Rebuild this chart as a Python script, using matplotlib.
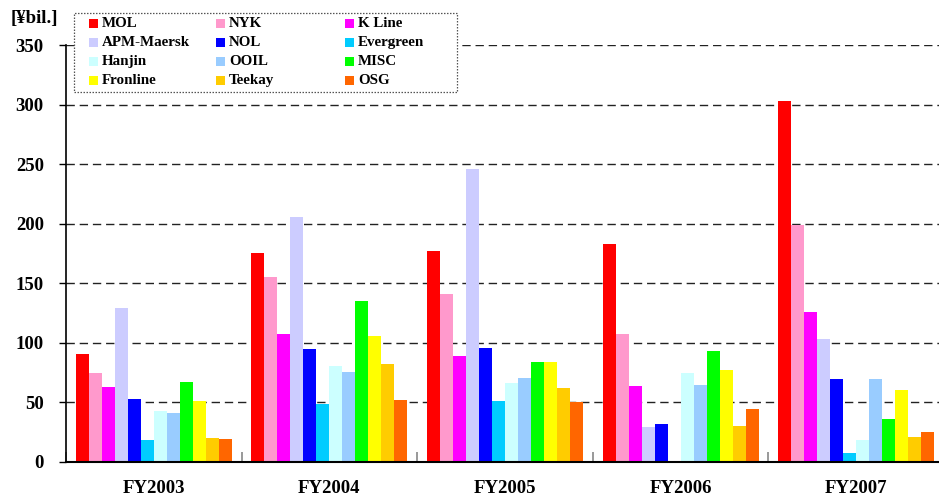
import matplotlib
matplotlib.use("Agg")
import matplotlib.pyplot as plt
from matplotlib.patches import Rectangle
import numpy as np

plt.rcParams['font.family'] = ['Liberation Serif', 'DejaVu Serif']
plt.rcParams['font.weight'] = 'bold'

years = ["FY2003", "FY2004", "FY2005", "FY2006", "FY2007"]
companies = ["MOL", "NYK", "K Line", "APM-Maersk", "NOL", "Evergreen",
             "Hanjin", "OOIL", "MISC", "Fronline", "Teekay", "OSG"]
colors = ["#FF0000", "#FF99CC", "#FF00FF", "#CCCCFF", "#0000FF", "#00CCFF",
          "#CCFFFF", "#99CCFF", "#00FF00", "#FFFF00", "#FFCC00", "#FF6600"]

MOL       = [90.5, 175.4, 177.0, 183.0, 303.0]
NYK       = [74.5, 155.2, 141.0, 107.3, 198.9]
K_Line    = [62.8, 107.3, 88.8, 63.6, 125.8]
APM       = [129.0, 205.6, 246.0, 29.2, 103.0]
NOL       = [52.7, 94.7, 95.5, 31.7, 69.5]
Evergreen = [18.2, 48.5, 51.0, 0.8, 7.3]
Hanjin    = [42.6, 80.4, 66.1, 74.5, 18.2]
OOIL      = [40.9, 75.4, 70.3, 64.5, 69.5]
MISC      = [67.0, 135.0, 83.8, 93.0, 35.9]
Fronline  = [51.0, 105.6, 83.8, 77.0, 60.3]
Teekay    = [19.9, 82.1, 61.9, 30.0, 20.8]
OSG       = [19.0, 51.8, 50.2, 44.3, 25.0]
series = [MOL, NYK, K_Line, APM, NOL, Evergreen, Hanjin, OOIL, MISC, Fronline, Teekay, OSG]

yticks = [0, 50, 100, 150, 200, 250, 300, 350]

W, H = 939, 497
fig = plt.figure(figsize=(W/100, H/100), dpi=100)
ax = fig.add_axes([66/W, 1-462/H, 878/W, 417/H])

x = np.arange(len(years))
bw = 0.074
n = len(series)
for i, (vals, c) in enumerate(zip(series, colors)):
    ax.bar(x + (i - (n-1)/2) * bw, vals, width=bw, color=c, zorder=3, linewidth=0)

ax.set_xlim(-0.5, len(years) - 0.5)
ax.set_ylim(0, 350)
ax.set_yticks(yticks)
ax.set_yticklabels([str(v) for v in yticks], fontsize=13.5, fontweight='bold')
ax.tick_params(axis='y', direction='out', length=5, width=1, pad=11)

# category boundaries as major ticks, category labels as minor ticks
ax.set_xticks(np.arange(-0.5, len(years)), minor=False)
ax.set_xticklabels([])
ax.tick_params(axis='x', which='major', direction='in', length=7, width=1.2, color='#888888')
ax.set_xticks(x, minor=True)
ax.set_xticklabels(years, minor=True, fontsize=13.5, fontweight='bold')
ax.tick_params(axis='x', which='minor', length=0, pad=13)

for v in yticks[1:]:
    ax.axhline(v, color='#222222', lw=1.0, linestyle=(0, (6, 3.5)), zorder=1)

for s in ['top', 'right']:
    ax.spines[s].set_visible(False)
ax.spines['left'].set_linewidth(1.2)
ax.spines['bottom'].set_linewidth(1.5)
ax.spines['left'].set_zorder(4)
ax.spines['bottom'].set_zorder(4)

fig.text(11/W, 1-19/H, "[¥bil.]", fontsize=13.5, fontweight='bold', va='center', ha='left')

# legend (Excel-like fixed column widths)
lx0, ly0, lx1, ly1 = 74, 13, 457, 92
fig.patches.append(Rectangle((lx0/W, 1-ly1/H), (lx1-lx0)/W, (ly1-ly0)/H,
                             transform=fig.transFigure, facecolor='white',
                             edgecolor='#555555', linestyle=(0, (1.2, 1.2)), lw=0.9, zorder=10))
colx = [89, 216, 345]
rowy = [23.5, 42.5, 61.5, 80.5]
for k, (name, c) in enumerate(zip(companies, colors)):
    r, col = divmod(k, 3)
    cx, cy = colx[col], rowy[r]
    fig.patches.append(Rectangle((cx/W, 1-(cy+4.5)/H), 9/W, 9/H, transform=fig.transFigure,
                                 facecolor=c, edgecolor='none', zorder=11))
    fig.text((cx+13)/W, 1-cy/H, name, fontsize=10.8, fontweight='bold',
             va='center', ha='left', zorder=12)

fig.savefig("out.png", dpi=100)
